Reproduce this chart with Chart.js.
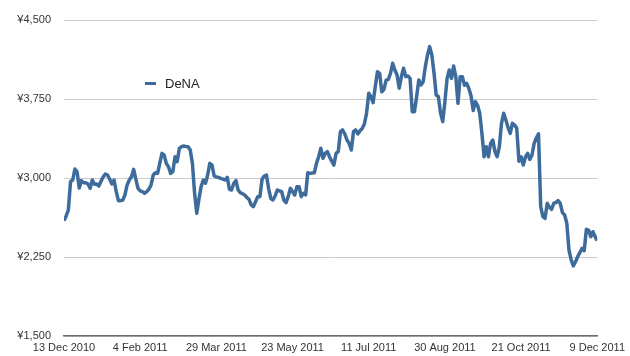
<!DOCTYPE html>
<html>
<head>
<meta charset="utf-8">
<script src="https://cdn.jsdelivr.net/npm/chart.js@4"></script>
<style>
  html, body { margin: 0; padding: 0; background: #fff; }
  #wrap { position: relative; width: 630px; height: 356px; }
  #legend { position: absolute; left: 145px; top: 76px; font-family: "Liberation Sans", Arial, sans-serif; font-size: 13px; color: #222; display: flex; align-items: center; }
  #legend .sw { display: inline-block; width: 11px; height: 3px; margin-right: 9px; }
</style>
</head>
<body>
<div id="wrap">
  <canvas id="c" width="630" height="356"></canvas>
  <div id="legend"><span class="sw"></span><span class="lbl"></span></div>
</div>
<script>
const seriesName = 'DeNA';
const seriesColor = '#3d6c9c';
const tickLabels = ['13 Dec 2010', '4 Feb 2011', '29 Mar 2011', '23 May 2011', '11 Jul 2011', '30 Aug 2011', '21 Oct 2011', '9 Dec 2011'];
const tickEvery = 35; // trading days between labelled dates
const yTicks = [1500, 2250, 3000, 3750, 4500];
const prices = [
  2595, 2640, 2696, 2965, 2981, 3085, 3060, 2905, 2975, 2955,
  2955, 2943, 2902, 2981, 2940, 2943, 2924, 2970, 3010, 3038,
  3028, 2988, 2943, 2981, 2870, 2785, 2785, 2790, 2839, 2934,
  2981, 3012, 3082, 2990, 2902, 2877, 2870, 2855, 2870, 2893,
  2934, 3028, 3050, 3044, 3139, 3234, 3218, 3139, 3107, 3044,
  3060, 3202, 3155, 3282, 3297, 3304, 3300, 3297, 3266, 3139,
  2855, 2665, 2800, 2918, 2981, 2950, 3028, 3139, 3123, 3019,
  3010, 3006, 2997, 2990, 2981, 3006, 2893, 2886, 2950, 2975,
  2886, 2861, 2850, 2839, 2815, 2798, 2744, 2728, 2775, 2823,
  2823, 2988, 3019, 3028, 2902, 2807, 2791, 2829, 2886, 2878,
  2870, 2791, 2766, 2823, 2902, 2870, 2839, 2918, 2918, 2823,
  2855, 2839, 3050, 3044, 3047, 3050, 3139, 3202, 3282, 3187,
  3234, 3250, 3200, 3160, 3123, 3234, 3250, 3440, 3456, 3418,
  3361, 3329, 3266, 3440, 3456, 3418, 3449, 3470, 3513, 3614,
  3804, 3772, 3715, 3867, 4009, 3994, 3819, 3842, 3930, 3937,
  3994, 4089, 4025, 3978, 3852, 3962, 4042, 3962, 3968, 3946,
  3630, 3630, 3772, 3930, 3883, 3914, 4057, 4168, 4247, 4168,
  3994, 3788, 3772, 3614, 3535, 3725, 3946, 4025, 3946, 4063,
  3962, 3709, 3962, 3962, 3880, 3899, 3850, 3780, 3640, 3725,
  3690, 3614, 3424, 3202, 3297, 3202, 3329, 3361, 3250, 3202,
  3297, 3519, 3614, 3551, 3480, 3424, 3519, 3503, 3472, 3160,
  3202, 3123, 3200, 3234, 3177, 3218, 3329, 3380, 3420, 2730,
  2633, 2617, 2760, 2722, 2703, 2760, 2766, 2785, 2760, 2671,
  2649, 2570, 2316, 2222, 2165, 2205, 2253, 2291, 2332, 2310,
  2513, 2506, 2443, 2490, 2443, 2405
];

document.querySelector('#legend .sw').style.background = seriesColor;
document.querySelector('#legend .lbl').textContent = seriesName;

const points = prices.map((v, i) => ({ x: i, y: v }));
const font = { family: '"Liberation Sans", Arial, sans-serif', size: 11 };

new Chart(document.getElementById('c'), {
  type: 'line',
  data: {
    datasets: [{
      label: seriesName,
      data: points,
      borderColor: seriesColor,
      borderWidth: 3.5,
      pointRadius: 0,
      tension: 0,
      fill: false,
      borderJoinStyle: 'round'
    }]
  },
  options: {
    responsive: false,
    animation: false,
    events: [],
    layout: { padding: { left: 0, right: 31, top: 20, bottom: 0 } },
    plugins: { legend: { display: false }, tooltip: { enabled: false } },
    scales: {
      x: {
        type: 'linear',
        min: 0,
        max: prices.length - 1,
        afterBuildTicks: (s) => { s.ticks = tickLabels.map((_, k) => ({ value: k * tickEvery })); },
        afterFit: (s) => { s.height = 20; },
        ticks: {
          autoSkip: false, maxRotation: 0, padding: 5, color: '#333', font,
          callback: (v) => tickLabels[Math.round(v / tickEvery)]
        },
        grid: { display: false, drawTicks: false },
        border: { display: true, color: '#6e6e6e', width: 1.5 }
      },
      y: {
        min: yTicks[0],
        max: yTicks[yTicks.length - 1],
        afterBuildTicks: (s) => { s.ticks = yTicks.map(v => ({ value: v })); },
        afterFit: (s) => { s.width = 64; },
        ticks: {
          padding: 13, color: '#333', font,
          callback: (v) => '¥' + v.toLocaleString('en-US')
        },
        grid: { color: '#cbcbcb', lineWidth: 1, drawTicks: false },
        border: { display: false }
      }
    }
  }
});
</script>
</body>
</html>
